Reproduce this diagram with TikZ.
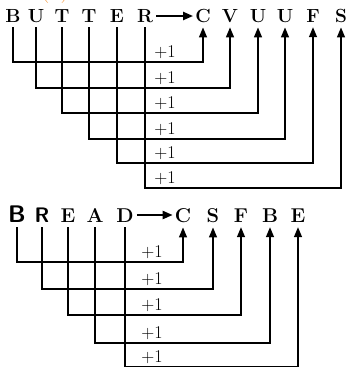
\documentclass[tikz,border=0pt]{standalone}
\usepackage{fontspec}
\usetikzlibrary{arrows.meta}
\begin{document}
\begin{tikzpicture}[x=1pt,y=-1pt,
  letter/.style={font=\fontsize{19}{19}\selectfont\bfseries, inner xsep=1pt, inner ysep=5pt, anchor=base, text=black},
  bigletter/.style={letter, font=\fontsize{20}{20}\selectfont\bfseries},
  inc/.style={font=\fontsize{18}{18}\selectfont, inner sep=0pt, text=black},
  conn/.style={line width=1.4pt, line join=miter, -{Triangle[width=8pt,length=10pt]}},
  maparrow/.style={line width=2.2pt, shorten <=2pt, shorten >=1pt, -{Triangle[width=8pt,length=10pt]}},
  note/.style={font=\fontsize{24}{24}\selectfont, text={rgb,255:red,240;green,140;blue,40}, inner sep=0pt, anchor=base}
]
\useasboundingbox (0,0) rectangle (351,368);
\clip (0,0) rectangle (351,368);

\node[note] (lab) at (55,-3) {(a)};

% ---------- BUTTER -> CVUUFS ----------
\foreach \n/\x/\t in {1/13/B,2/36/U,3/62/T,4/89/T,5/117/E,6/145/R}
  \node[letter] (ti\n) at (\x,22) {\t};
\foreach \n/\x/\t in {1/203/C,2/230/V,3/258/U,4/285/U,5/313/F,6/341/S}
  \node[letter] (to\n) at (\x,22) {\t};
\draw[maparrow] (ti6.east |- 0,16) coordinate (ta) -- (to1.west |- ta);

\foreach \n/\y in {1/62,2/88,3/113,4/139,5/163,6/188}{
  \coordinate (th\n) at (0,\y);
  \draw[conn] (ti\n.south) |- (to\n.south |- th\n) -- (to\n.south);
  \node[inc] (tp\n) at (165,\y-10) {+1};
}

% ---------- BREAD -> CSFBE ----------
\node[letter, font=\fontsize{24}{24}\sffamily\bfseries] (bi1) at (17,222) {B};
\node[letter, font=\fontsize{21}{21}\sffamily\bfseries] (bi2) at (42,222) {R};
\foreach \n/\x/\t in {3/68/E,4/95/A,5/125/D}
  \node[bigletter] (bi\n) at (\x,222) {\t};
\foreach \n/\x/\t in {1/183/C,2/213/S,3/241/F,4/270/B,5/298/E}
  \node[bigletter] (bo\n) at (\x,222) {\t};
\draw[maparrow] (bi5.east |- 0,215) coordinate (ba) -- (bo1.west |- ba);

\foreach \n/\y in {1/262,2/289,3/315,4/343,5/366.5}{
  \coordinate (bh\n) at (0,\y);
  \draw[conn] (bi\n.south) |- (bo\n.south |- bh\n) -- (bo\n.south);
  \node[inc] (bp\n) at (152,\y-9.5) {+1};
}
\end{tikzpicture}
\end{document}
